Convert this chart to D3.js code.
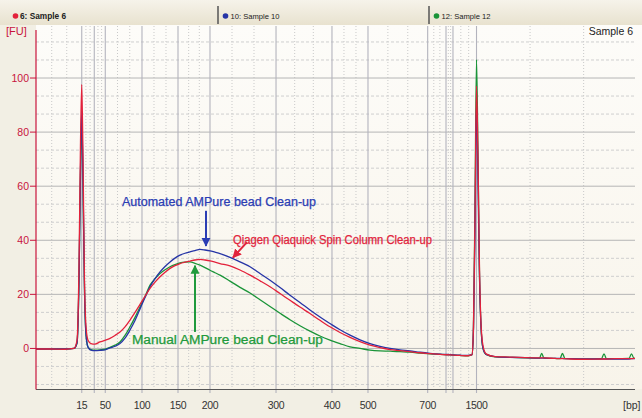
<!DOCTYPE html>
<html><head><meta charset="utf-8">
<script src="https://cdn.jsdelivr.net/npm/d3@7"></script>
<style>body{margin:0;background:#f2efe3;} svg{display:block}</style>
</head><body><svg id="c" width="642" height="418"></svg>
<script>
// migration time (s)
const migrationTime = [40.00,41.99,44.12,45.39,45.82,46.10,46.31,46.49,46.67,46.88,
47.10,47.38,47.80,48.37,49.08,49.79,50.50,51.21,51.92,52.63,
53.34,54.05,54.76,55.47,56.18,56.89,57.60,58.31,59.02,59.72,
60.43,61.14,61.85,62.56,63.27,63.98,64.69,65.40,66.11,67.53,
68.95,70.37,71.79,73.21,74.63,76.04,77.46,78.88,80.30,81.72,
83.14,84.56,85.98,87.40,88.82,90.24,91.65,93.07,94.49,95.91,
97.33,98.75,100.17,101.30,101.87,102.08,102.30,102.51,102.72,102.93,
103.15,103.43,103.86,105.13,107.26,109.39,111.45,111.76,112.08,113.65,
114.36,114.70,115.07,115.78,117.91,120.24,120.60,120.95,122.16,124.15,
124.50,124.86,125.00];
// Sample 6 (red) - Qiagen Qiaquick Spin Column
const sample6 = [-0.2,-0.2,-0.3,0.0,3,30,75,97.6,70,25,
8,3,1.8,1.6,2.4,3.0,3.7,4.8,6.1,8.0,
10.5,13.3,16.3,19.3,22.2,24.5,26.5,28.2,29.6,30.6,
31.4,31.9,32.3,32.7,32.9,32.7,32.4,31.9,31.4,30.5,
29.0,27.1,25.0,22.8,20.3,17.8,15.3,12.9,10.4,8.0,
5.9,4.1,2.5,1.2,0.3,-0.4,-0.8,-1.2,-1.6,-1.9,
-2.2,-2.4,-2.6,-2.7,-2.3,8,50,97,70,30,
9,1,-2.0,-3.0,-3.2,-3.4,-3.5,-3.5,-3.5,-3.7,
-3.8,-3.8,-3.8,-3.9,-4.0,-3.9,-3.9,-3.9,-3.8,-3.8,
-3.8,-3.7,-3.7];
// Sample 10 (blue) - Automated AMPure
const sample10 = [-0.2,-0.2,-0.2,0.0,2,25,65,88,62,22,
5,0.5,-0.6,-0.8,-0.7,-0.5,0.2,0.8,1.8,3.8,
6.8,10.3,14.6,18.8,22.8,25.8,28.3,30.3,32.0,33.4,
34.5,35.2,35.7,36.2,36.6,36.4,36.1,35.6,35.1,33.7,
32.0,30.2,27.7,25.2,22.5,19.7,17.0,14.2,11.6,9.2,
6.9,4.9,3.2,1.8,0.8,0.0,-0.5,-0.9,-1.4,-1.8,
-2.1,-2.3,-2.5,-2.6,-2.3,7,45,91,62,27,
8,0,-2.2,-3.0,-3.3,-3.4,-3.6,-3.6,-3.6,-3.7,
-3.7,-3.7,-3.8,-3.8,-3.9,-3.9,-3.9,-3.9,-3.9,-3.9,
-3.8,-3.8,-3.8];
// Sample 12 (green) - Manual AMPure
const sample12 = [-0.2,-0.2,-0.2,0.0,2,25,64,86,60,22,
5,0.5,-0.4,-0.6,-0.5,-0.3,0.4,1.2,2.4,4.8,
8.0,11.5,15.3,19.2,23.4,25.8,27.7,29.1,30.2,31.0,
31.6,31.9,32.0,31.5,30.8,29.9,28.9,28.0,27.1,24.9,
22.6,20.5,18.0,15.5,13.0,10.6,8.4,6.4,4.6,3.1,
1.8,0.6,0.0,-0.6,-0.9,-1.0,-1.2,-1.4,-1.7,-2.0,
-2.2,-2.4,-2.6,-2.7,-2.3,8,55,106.8,72,28,
8,0,-2.2,-3.1,-3.3,-3.5,-3.6,-1.8,-3.6,-3.7,
-3.8,-1.8,-3.8,-3.8,-3.9,-3.8,-2.0,-3.8,-3.8,-3.7,
-2.0,-3.7,-3.7];

const ladderBp = [15,35,50,100,150,200,300,400,500,700,850,1000,1500];
const ladderTime = [46.49,48.27,49.83,55.04,60.15,64.69,74.06,82.00,87.11,95.58,98.18,99.17,102.51];
const ladderLabels = ["15","","50","100","150","200","300","400","500","700","","","1500"];
const yTicks = [0,20,40,60,80,100];
const tabNames = ["6: Sample 6","10: Sample 10","12: Sample 12"];
const seriesNames = ["Sample 6","Sample 10","Sample 12"];
const annoText = ["Automated AMPure bead Clean-up","Qiagen Qiaquick Spin Column Clean-up","Manual AMPure bead Clean-up"];
// annotation anchors in data space: [textTime, textValue, tailTime, tailValue, tipTime, tipValue]
const annoAnchor = [
  [52.2, 52.7, 64.12, 50.9, 64.12, 37.9],
  [67.95, 38.6, 69.94, 39.3, 67.95, 33.6],
  [53.62, 1.6, 62.56, 6.1, 62.56, 30.6]
];

const W = 642, H = 418;
const svg = d3.select("#c");
const x = d3.scaleLinear().domain([40,125]).range([36,635]);
const y = d3.scaleLinear().domain([-15,117.5]).range([389,30.7]);
const colors = {red:"#e3213b", blue:"#2634a6", green:"#1a9438"};
const serColors = [colors.red, colors.blue, colors.green];
const textColors = ["#2b3db4","#e2243c","#1f9a3c"];
const axisRed = "#c8143c";

const defs = svg.append("defs");
const hg = defs.append("linearGradient").attr("id","hg").attr("x1",0).attr("x2",0).attr("y1",0).attr("y2",1);
hg.append("stop").attr("offset","0").attr("stop-color","#f6f3ea");
hg.append("stop").attr("offset","1").attr("stop-color","#e8e2cf");
const pg = defs.append("linearGradient").attr("id","pg").attr("x1",0).attr("x2",0).attr("y1",0).attr("y2",1);
pg.append("stop").attr("offset","0").attr("stop-color","#fdfcf9");
pg.append("stop").attr("offset","1").attr("stop-color","#f8f4ea");

// background
svg.append("rect").attr("width",W).attr("height",H).attr("fill","#f2efe4");
svg.append("rect").attr("x",36).attr("y",25).attr("width",W-36).attr("height",389-25).attr("fill","url(#pg)");
// header
svg.append("rect").attr("width",W).attr("height",25).attr("fill","url(#hg)");
const tabX = [0, 218, 429];
const tab = svg.append("g").selectAll("g").data(tabNames).join("g")
  .attr("transform",(d,i)=>`translate(${tabX[i]},0)`);
tab.filter((d,i)=>i>0).append("line").attr("x1",0).attr("x2",0).attr("y1",6).attr("y2",24)
  .attr("stroke","#555").attr("stroke-width",1.5);
tab.append("circle").attr("cx",(d,i)=>i===0?15.5:7.5).attr("cy",16).attr("r",2.8)
  .attr("fill",(d,i)=>serColors[i]);
tab.append("text").attr("x",(d,i)=>i===0?20:12.5).attr("y",19)
  .attr("font-family","Liberation Sans, Arial, sans-serif")
  .attr("font-size",(d,i)=>i===0?8.3:7.6).attr("font-weight",(d,i)=>i===0?"bold":"normal")
  .attr("fill","#222").text(d=>d);

// minor vertical grid (thirds between ladder ticks)
const minorX = [];
for (let k=1;k<=3;k++) minorX.push(ladderTime[0]-k*2.13);
for (let i=0;i<ladderTime.length-1;i++){
  const a=ladderTime[i], b=ladderTime[i+1];
  minorX.push(a+(b-a)/3, a+2*(b-a)/3);
}
for (let k=1;k<=2;k++) minorX.push(ladderTime[ladderTime.length-1]+k*7.6);
svg.append("g").selectAll("line").data(minorX.filter(t=>x(t)>37)).join("line")
  .attr("x1",d=>x(d)).attr("x2",d=>x(d)).attr("y1",26).attr("y2",389)
  .attr("stroke","#c9c9c9").attr("stroke-width",1).attr("stroke-dasharray","1,2");
// minor horizontal grid
const minorY = [];
for (let v=-40; v<=340; v+=20) { const val=v/3; if (v%60!==0 && val>-15 && val<117.5) minorY.push(val); }
svg.append("g").selectAll("line").data(minorY).join("line")
  .attr("x1",36).attr("x2",635).attr("y1",d=>y(d)).attr("y2",d=>y(d))
  .attr("stroke","#cfcfcf").attr("stroke-width",1).attr("stroke-dasharray","3,2");
// major horizontal grid
svg.append("g").selectAll("line").data(yTicks).join("line")
  .attr("x1",36).attr("x2",635).attr("y1",d=>y(d)).attr("y2",d=>y(d))
  .attr("stroke","#b5b5b5").attr("stroke-width",1);
// major vertical grid at ladder
svg.append("g").selectAll("line").data(ladderTime).join("line")
  .attr("x1",d=>x(d)).attr("x2",d=>x(d)).attr("y1",26).attr("y2",393)
  .attr("stroke","#b3b3bd").attr("stroke-width",1.1);

// curves
const line = d3.line().x((d,i)=>x(migrationTime[i])).y(d=>y(d)).curve(d3.curveMonotoneX);
const drawOrder = [2,1,0];
const allSeries = [sample6, sample10, sample12];
svg.append("g").selectAll("path").data(drawOrder).join("path")
  .attr("d",i=>line(allSeries[i])).attr("fill","none")
  .attr("stroke",i=>serColors[i]).attr("stroke-width",1.3).attr("stroke-linejoin","round");

// axes
svg.append("line").attr("x1",36).attr("x2",635).attr("y1",389.5).attr("y2",389.5).attr("stroke","#555").attr("stroke-width",1);
svg.append("line").attr("x1",36).attr("x2",36).attr("y1",30).attr("y2",389.5).attr("stroke",axisRed).attr("stroke-width",1.2);
svg.append("g").selectAll("line").data(yTicks).join("line")
  .attr("x1",30).attr("x2",36).attr("y1",d=>y(d)).attr("y2",d=>y(d)).attr("stroke",axisRed).attr("stroke-width",1);
svg.append("g").selectAll("text").data(yTicks).join("text")
  .attr("x",29).attr("y",d=>y(d)).attr("dy","0.36em").attr("text-anchor","end")
  .attr("font-family","Liberation Sans, Arial, sans-serif").attr("font-size",10.5)
  .attr("fill",axisRed).text(d=>d);
svg.append("g").selectAll("text").data(ladderLabels).join("text")
  .attr("x",(d,i)=>x(ladderTime[i])).attr("y",409).attr("text-anchor","middle")
  .attr("font-family","Liberation Sans, Arial, sans-serif").attr("font-size",10.5)
  .attr("letter-spacing","-0.3").attr("fill","#333").text(d=>d);
svg.append("text").attr("x",623).attr("y",409).attr("font-family","Liberation Sans, Arial, sans-serif")
  .attr("font-size",10.5).attr("fill","#333").text("[bp]");
svg.append("text").attr("x",6).attr("y",35).attr("font-family","Liberation Sans, Arial, sans-serif")
  .attr("font-size",11).attr("fill",axisRed).text("[FU]");
svg.append("text").attr("x",633).attr("y",35).attr("text-anchor","end").attr("font-family","Liberation Sans, Arial, sans-serif")
  .attr("font-size",10.5).attr("fill","#222").text(seriesNames[0]);

// annotations
textColors.forEach((c,i)=>{
  defs.append("marker").attr("id","ah"+i).attr("viewBox","0 0 10 10").attr("refX",9).attr("refY",5)
    .attr("markerWidth",9).attr("markerHeight",10).attr("markerUnits","userSpaceOnUse").attr("orient","auto")
    .append("path").attr("d","M0,0 L10,5 L0,10 Z").attr("fill",c);
});
const ann = svg.append("g").selectAll("g").data(annoText).join("g");
ann.append("line")
  .attr("x1",(d,i)=>x(annoAnchor[i][2])).attr("y1",(d,i)=>y(annoAnchor[i][3]))
  .attr("x2",(d,i)=>x(annoAnchor[i][4])).attr("y2",(d,i)=>y(annoAnchor[i][5]))
  .attr("stroke",(d,i)=>textColors[i]).attr("stroke-width",2).attr("marker-end",(d,i)=>`url(#ah${i})`);
const annWidths = [194,199,191];
ann.append("text").attr("x",(d,i)=>x(annoAnchor[i][0])).attr("y",(d,i)=>y(annoAnchor[i][1]))
  .attr("font-family","Liberation Sans, Arial, sans-serif").attr("font-size",12)
  .attr("textLength",(d,i)=>annWidths[i]).attr("lengthAdjust","spacingAndGlyphs")
  .attr("fill",(d,i)=>textColors[i]).attr("stroke",(d,i)=>textColors[i]).attr("stroke-width",0.25)
  .text(d=>d);
</script></body></html>
